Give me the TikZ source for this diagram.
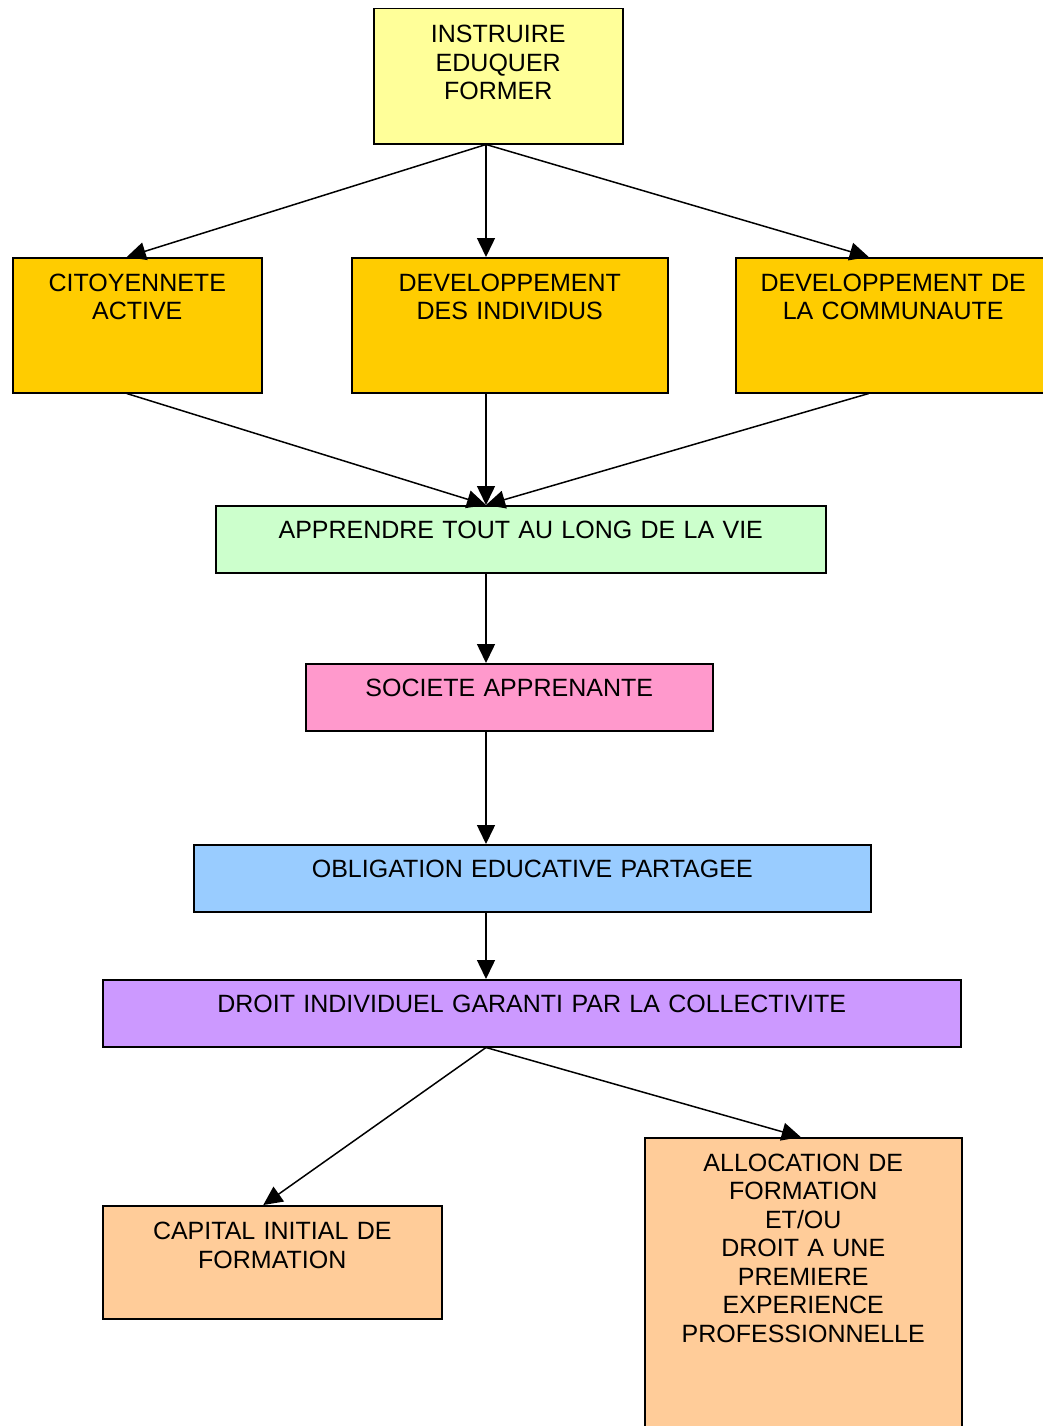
\documentclass[tikz,border=0pt]{standalone}
\usepackage{fontspec}
\setmainfont{Liberation Sans}
\usepackage{xcolor}
\usetikzlibrary{arrows.meta,positioning}

\definecolor{paleyellow}{RGB}{255,255,153}
\definecolor{gold}{RGB}{255,204,0}
\definecolor{palegreen}{RGB}{204,255,204}
\definecolor{pink}{RGB}{255,153,204}
\definecolor{skyblue}{RGB}{153,204,255}
\definecolor{lavender}{RGB}{204,153,255}
\definecolor{peach}{RGB}{255,204,153}

\begin{document}
\begin{tikzpicture}[x=1pt, y=-1pt,
    box/.style={rectangle, draw, line width=1.5pt, anchor=north west, inner sep=0pt, align=center, font=\fontsize{25}{28.5}\selectfont},
    arr/.style={-{Triangle[length=19pt, width=18pt]}, line width=1.5pt}
]
\useasboundingbox (0,0) rectangle (1042,1426);
\coordinate (spine) at (486,0);

\node[box, fill=paleyellow, text width=249pt, text height=34pt, text depth=101pt] (instr) at (373,8) {INSTRUIRE\\EDUQUER\\FORMER};
\node[box, fill=gold, text width=249pt, text height=33.5pt, text depth=101.5pt] (cit) at (12,257) {CITOYENNETE\\ACTIVE};
\node[box, fill=gold, text width=316pt, text height=33.5pt, text depth=101.5pt] (devind) at (351,257) {DEVELOPPEMENT\\DES INDIVIDUS};
\node[box, fill=gold, text width=315pt, text height=33.5pt, text depth=101.5pt] (devcom) at (735,257) {DEVELOPPEMENT DE\\LA COMMUNAUTE};
\node[box, fill=palegreen, text width=610pt, text height=32.7pt, text depth=34.3pt] (appr) at (215,505) {APPRENDRE TOUT AU LONG DE LA VIE};
\node[box, fill=pink, text width=407pt, text height=32.7pt, text depth=34.3pt] (soc) at (305,663) {SOCIETE APPRENANTE};
\node[box, fill=skyblue, text width=677pt, text height=32.7pt, text depth=34.3pt] (oblig) at (193,844) {OBLIGATION EDUCATIVE PARTAGEE};
\node[box, fill=lavender, text width=858pt, text height=32.7pt, text depth=34.3pt] (droit) at (102,979) {DROIT INDIVIDUEL GARANTI PAR LA COLLECTIVITE};
\node[box, fill=peach, text width=339pt, text height=34pt, text depth=79pt] (cap) at (102,1205) {CAPITAL INITIAL DE\\FORMATION};
\node[box, fill=peach, text width=317pt, text height=33.3pt, text depth=276.7pt] (alloc) at (644,1137) {ALLOCATION DE\\FORMATION\\ET/OU\\DROIT A UNE\\PREMIERE\\EXPERIENCE\\PROFESSIONNELLE};

% arrows
\draw[arr] (instr.south -| spine) -- ([xshift=-10.5pt]cit.north);
\draw[arr] (instr.south -| spine) -- (devind.north -| spine);
\draw[arr] (instr.south -| spine) -- ([xshift=-24.5pt]devcom.north);
\draw[arr] ([xshift=-10.5pt]cit.south) -- (appr.north -| spine);
\draw[arr] (devind.south -| spine) -- (appr.north -| spine);
\draw[arr] ([xshift=-24.5pt]devcom.south) -- (appr.north -| spine);
\draw[arr] (appr.south -| spine) -- (soc.north -| spine);
\draw[arr] (soc.south -| spine) -- (oblig.north -| spine);
\draw[arr] (oblig.south -| spine) -- (droit.north -| spine);
\draw[arr] (droit.south -| spine) -- ([xshift=-9pt]cap.north);
\draw[arr] (droit.south -| spine) -- ([xshift=-2.5pt]alloc.north);
\end{tikzpicture}
\end{document}
